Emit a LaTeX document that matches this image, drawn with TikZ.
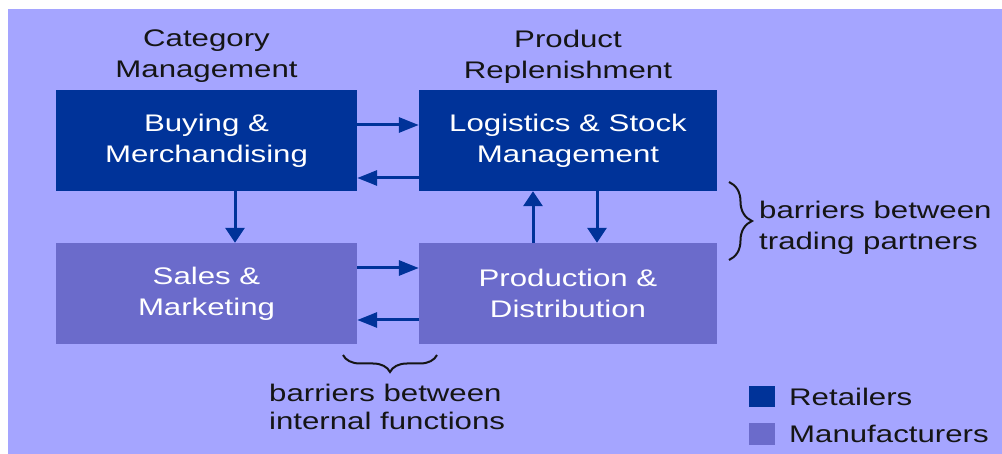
\documentclass[tikz,border=0pt]{standalone}
\usepackage{fontspec}
\setmainfont{Liberation Sans}[FakeStretch=1.3]
\usepackage{xcolor}
\usetikzlibrary{arrows.meta,decorations.pathreplacing}
\definecolor{lavender}{HTML}{A5A5FF}
\definecolor{retail}{HTML}{003399}
\definecolor{manuf}{HTML}{6B6BCB}
\definecolor{ink}{HTML}{151515}

\begin{document}
\begin{tikzpicture}[x=1pt,y=-1pt]
		\useasboundingbox (0,0) rectangle (1002,454);
		\fill[lavender] (8,9) rectangle (1002,454);
		\tikzstyle{every node}+=[inner sep=0pt,text=ink,font=\fontsize{24}{31}\selectfont]
		\tikzstyle{box}=[minimum width=301pt,minimum height=101pt,align=center,text=white]
		\tikzstyle{key}=[minimum width=26pt,minimum height=21pt]
		\node[box,fill=retail] (buy) at (206.5,140.5) {Buying \&\\Merchandising};
		\node[box,fill=retail,minimum width=298pt] (log) at (568,140.5) {Logistics \& Stock\\Management};
		\node[box,fill=manuf] (sal) at (206.5,293.5) {Sales \&\\Marketing};
		\node[box,fill=manuf,minimum width=298pt] (prd) at (568,293.5) {Production \&\\Distribution};
		\node[align=center] (cat) at (206.5,56.5) {Category\\Management};
		\node[align=center] (rep) at (568,56.5) {Product\\Replenishment};
		\node[align=left,anchor=west] (trd) at (759,227.5) {barriers between\\trading partners};
		\node[align=left,anchor=west,font=\fontsize{24}{28}\selectfont] (int) at (269,407) {barriers between\\internal functions};
		\node[key,fill=retail] (kret) at (762,396.5) {};
		\node[key,fill=manuf] (kman) at (762,434) {};
		\node[anchor=west] (tret) at (789,397) {Retailers};
		\node[anchor=west] (tman) at (789,434) {Manufacturers};
		\coordinate (tb1) at (729,182);
		\coordinate (tb2) at (729,260);
		\coordinate (ib1) at (437,355);
		\coordinate (ib2) at (343,355);
		\tikzstyle{every edge}+=[draw=retail,line width=3pt]
		\tikzstyle{harr}=[-{Triangle[length=20pt,width=15pt]}]
		\tikzstyle{varr}=[-{Triangle[length=15pt,width=19pt]}]
		\draw
		([yshift=15.5pt]buy.east) edge[harr] ([yshift=15.5pt]log.west)
		([yshift=-37.5pt]log.west) edge[harr] ([yshift=-37.5pt]buy.east)
		([xshift=28.5pt]buy.south) edge[varr] ([xshift=28.5pt]sal.north)
		([xshift=-35pt]prd.north) edge[varr] ([xshift=-35pt]log.south)
		([xshift=29pt]log.south) edge[varr] ([xshift=29pt]prd.north)
		([yshift=25.5pt]sal.east) edge[harr] ([yshift=25.5pt]prd.west)
		([yshift=-26.5pt]prd.west) edge[harr] ([yshift=-26.5pt]sal.east)
		;
		\draw[ink,line width=2pt,decorate,decoration={brace,amplitude=23pt}] (tb1) -- (tb2);
		\draw[ink,line width=2pt,decorate,decoration={brace,amplitude=17pt}] (ib1) -- (ib2);
	\end{tikzpicture}
\end{document}
